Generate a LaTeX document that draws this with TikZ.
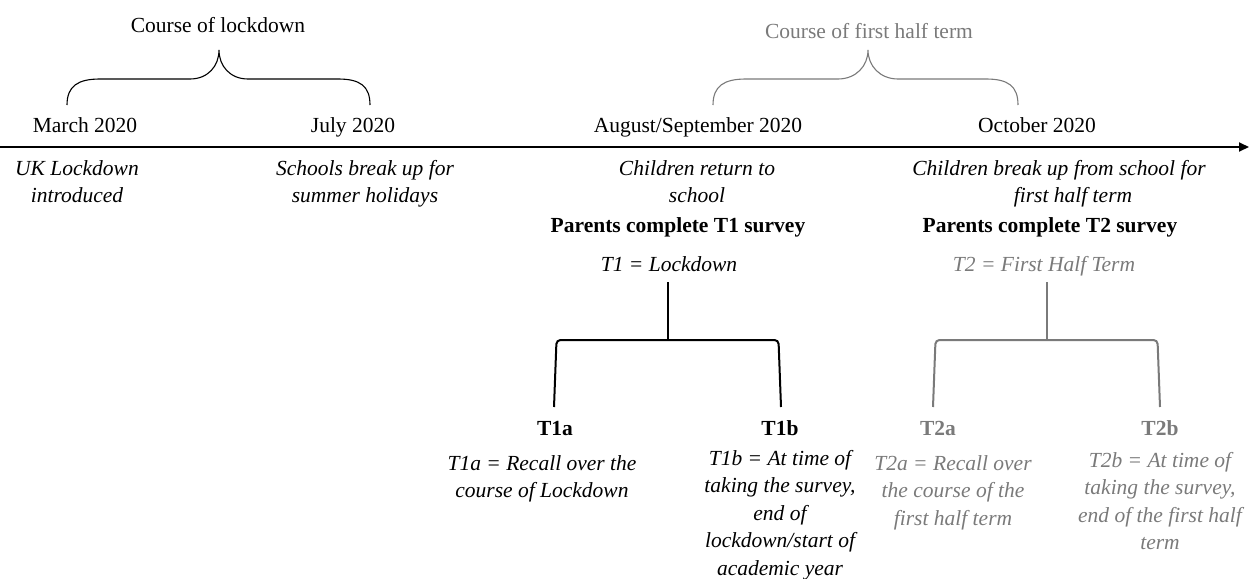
\documentclass[tikz,border=0pt]{standalone}
\usepackage{fontspec}
\setmainfont{Liberation Serif}
\usetikzlibrary{arrows.meta}
\definecolor{fadegray}{RGB}{122,122,122}
\tikzset{
  lbl/.style={anchor=base, inner sep=0pt, align=center, font=\fontsize{21.5}{27.5}\selectfont},
  desc/.style={lbl, font=\fontsize{21.5}{27.5}\selectfont\itshape},
  bold/.style={lbl, font=\fontsize{21.5}{27.5}\selectfont\bfseries},
  brace/.style={line width=1.1pt},
  tree/.style={line width=2pt, rounded corners=4pt},
  timeline/.style={line width=1.8pt, -{Triangle[length=10pt,width=9pt]}},
}
\begin{document}
\begin{tikzpicture}[x=1pt,y=-1pt]
\path[use as bounding box] (0,0) rectangle (1249,578);

% timeline
\coordinate (tl0) at (0,147);
\coordinate (tl1) at (1249,147);
\draw[timeline] (tl0) -- (tl1);

% month labels
\node[lbl] (mar) at (85,132) {March 2020};
\node[lbl] (jul) at (353,132) {July 2020};
\node[lbl] (aug) at (698,132) {August/September 2020};
\node[lbl] (oct) at (1037,132) {October 2020};

% brace labels
\node[lbl] (cl) at (218,33) {Course of lockdown};
\node[lbl, text=fadegray] (cf) at (869,38) {Course of first half term};

% brace 1
\coordinate (b1l) at (67,105);
\coordinate (b1t) at (219,50);
\coordinate (b1r) at (370,105);
\draw[brace] (b1l) .. controls (67,86) and (78,79) .. (100,79) -- (190,79)
  .. controls (208,79) and (219,66) .. (b1t)
  .. controls (219,66) and (230,79) .. (248,79) -- (338,79)
  .. controls (360,79) and (370,86) .. (b1r);

% brace 2
\coordinate (b2l) at (713,105);
\coordinate (b2t) at (868,50);
\coordinate (b2r) at (1018,105);
\draw[brace, fadegray] (b2l) .. controls (713,86) and (724,79) .. (746,79) -- (838,79)
  .. controls (856,79) and (868,66) .. (b2t)
  .. controls (868,66) and (880,79) .. (898,79) -- (986,79)
  .. controls (1008,79) and (1018,86) .. (b2r);

% descriptions under timeline (anchor = baseline of last line)
\node[desc] (uk) at (77,202.5) {UK Lockdown\\introduced};
\node[desc] (sch) at (365,202.5) {Schools break up for\\summer holidays};
\node[desc] (ret) at (697,202.5) {Children return to\\school};
\node[desc] (brk) at (1073,202.5) {Children break up from school for\hspace*{28pt}\\first half term};

\node[bold] (p1) at (678,232) {Parents complete T1 survey};
\node[bold] (p2) at (1050,232) {Parents complete T2 survey};

\node[desc] (t1) at (669,271) {T1 = Lockdown};
\node[desc, text=fadegray] (t2) at (1044,271) {T2 = First Half Term};

% tree 1
\coordinate (s1top) at (668,282);
\coordinate (s1bot) at (668,340);
\coordinate (l1a) at (554,407);
\coordinate (l1b) at (781,407);
\draw[tree] (s1top) -- (s1bot);
\draw[tree] (l1a) -- (556.5,340) -- (778.5,340) -- (l1b);

% tree 2
\coordinate (s2top) at (1047,282);
\coordinate (s2bot) at (1047,340);
\coordinate (l2a) at (933,407);
\coordinate (l2b) at (1160,407);
\draw[tree, fadegray] (s2top) -- (s2bot);
\draw[tree, fadegray] (l2a) -- (935.5,340) -- (1157.5,340) -- (l2b);

% leaves
\node[bold] (t1a) at (555,435) {T1a};
\node[bold] (t1b) at (780,435) {T1b};
\node[bold, text=fadegray] (t2a) at (938,435) {T2a};
\node[bold, text=fadegray] (t2b) at (1160,435) {T2b};

\node[desc] (d1a) at (542,497.5) {T1a = Recall over the\\course of Lockdown};
\node[desc] (d1b) at (780,575) {T1b = At time of\\taking the survey,\\end of\\lockdown/start of\\academic year};
\node[desc, text=fadegray] (d2a) at (953,525) {T2a = Recall over\\the course of the\\first half term};
\node[desc, text=fadegray] (d2b) at (1160,549.5) {T2b = At time of\\taking the survey,\\end of the first half\\term};
\end{tikzpicture}
\end{document}
